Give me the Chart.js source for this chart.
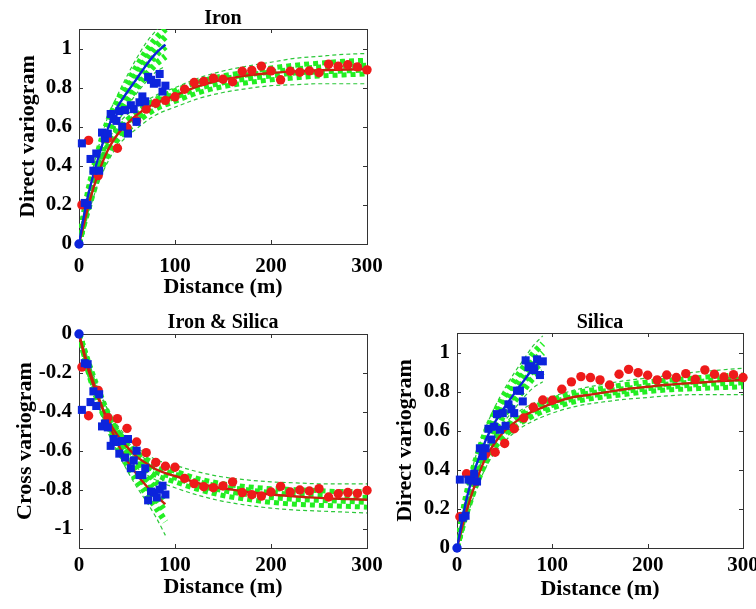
<!DOCTYPE html>
<html><head><meta charset="utf-8">
<script src="https://cdn.jsdelivr.net/npm/chart.js@4.4.1/dist/chart.umd.min.js"></script>
<style>
html,body{margin:0;padding:0;background:#fff;overflow:hidden;width:756px;height:609px;position:relative;}
canvas{position:absolute;}
</style></head><body>
<canvas id="c1" width="410" height="300" style="left:0;top:0"></canvas>
<canvas id="c2" width="410" height="309" style="left:0;top:300px"></canvas>
<canvas id="c3" width="410" height="309" style="left:380px;top:300px"></canvas>
<script>
// ---------- tick labels ----------
const xTicks = [0, 100, 200, 300];
const yTicksDirect = [0, 0.2, 0.4, 0.6, 0.8, 1];
const yTicksCross = [-1, -0.8, -0.6, -0.4, -0.2, 0];

// ---------- lags ----------
const lagLong = [3,10,20,30,40,50,60,70,80,90,100,110,120,130,140,150,160,170,180,190,200,210,220,230,240,250,260,270,280,290,300];
const lagShort = [0,3,6,9,12,15,18,21,24,27,30,33,36,39,42,45,48,51,54,57,60,63,66,69,72,75,78,81,84,87,90];
const modelShortX = [0,5,10,20,30,40,50,60,70,80,90];
const modelLongX = [0,5,10,20,30,40,50,60,70,80,90,100,120,140,160,180,200,220,240,260,280,300];
const bandShortX = [0,10,20,30,40,50,60,70,80,90];
const bandLongX = [0,10,20,30,40,60,80,100,125,150,175,200,225,250,275,300];

// ---------- Iron ----------
const ironRed = [0.20,0.53,0.35,0.54,0.49,0.595,0.63,0.69,0.72,0.735,0.753,0.792,0.826,0.832,0.848,0.843,0.83,0.884,0.888,0.91,0.886,0.84,0.884,0.879,0.886,0.876,0.92,0.91,0.917,0.906,0.891];
const ironBlue = [0,0.515,0.21,0.20,0.435,0.375,0.463,0.375,0.57,0.54,0.565,0.665,0.64,0.63,0.68,0.60,0.685,0.565,0.71,0.69,0.625,0.725,0.755,0.73,0.855,0.84,0.82,0.825,0.87,0.78,0.81];
const ironShortModel = [0,0.14,0.26,0.44,0.59,0.70,0.775,0.845,0.915,0.975,1.02];
const ironLongModel = [0,0.1,0.2,0.36,0.48,0.56,0.615,0.66,0.695,0.72,0.74,0.76,0.80,0.83,0.85,0.865,0.875,0.882,0.887,0.89,0.893,0.895];
const ironShortBand = [
  [0,0.22,0.39,0.52,0.62,0.70,0.77,0.83,0.88,0.91],
  [0,0.235,0.41,0.55,0.65,0.73,0.80,0.865,0.92,0.96],
  [0,0.25,0.43,0.575,0.68,0.76,0.835,0.905,0.965,1.01],
  [0,0.26,0.45,0.60,0.705,0.79,0.87,0.945,1.01,1.06],
  [0,0.275,0.47,0.625,0.73,0.82,0.905,0.985,1.05,1.10],
  [0,0.29,0.49,0.65,0.76,0.86,0.95,1.03,1.09,1.14]
];
const ironLongBand = [
  [0,0.16,0.31,0.42,0.50,0.59,0.66,0.70,0.745,0.775,0.795,0.81,0.815,0.82,0.82,0.82],
  [0,0.175,0.335,0.45,0.53,0.62,0.69,0.73,0.775,0.805,0.825,0.84,0.85,0.86,0.865,0.87],
  [0,0.19,0.35,0.47,0.55,0.64,0.71,0.75,0.795,0.825,0.845,0.86,0.875,0.88,0.885,0.89],
  [0,0.205,0.37,0.49,0.57,0.66,0.725,0.77,0.815,0.845,0.865,0.88,0.895,0.905,0.91,0.915],
  [0,0.22,0.385,0.505,0.585,0.675,0.74,0.785,0.83,0.86,0.88,0.90,0.915,0.925,0.935,0.94],
  [0,0.24,0.41,0.53,0.61,0.70,0.76,0.80,0.85,0.885,0.91,0.93,0.95,0.96,0.97,0.975]
];

// ---------- Iron & Silica ----------
const crossRed = [-0.17,-0.42,-0.29,-0.43,-0.435,-0.485,-0.555,-0.61,-0.66,-0.68,-0.685,-0.742,-0.769,-0.785,-0.79,-0.781,-0.76,-0.815,-0.826,-0.833,-0.812,-0.783,-0.812,-0.802,-0.807,-0.795,-0.838,-0.821,-0.815,-0.819,-0.804];
const crossBlue = [0,-0.39,-0.15,-0.155,-0.35,-0.295,-0.37,-0.31,-0.475,-0.46,-0.48,-0.575,-0.54,-0.555,-0.615,-0.55,-0.635,-0.54,-0.69,-0.65,-0.60,-0.725,-0.725,-0.69,-0.855,-0.81,-0.815,-0.84,-0.80,-0.78,-0.825];
const crossShortModel = [0,-0.09,-0.17,-0.32,-0.45,-0.56,-0.65,-0.72,-0.78,-0.83,-0.875];
const crossLongModel = [0,-0.1,-0.19,-0.33,-0.44,-0.52,-0.58,-0.63,-0.665,-0.695,-0.715,-0.73,-0.76,-0.785,-0.80,-0.815,-0.825,-0.833,-0.84,-0.845,-0.848,-0.852];
const crossShortBand = [
  [0,-0.145,-0.27,-0.39,-0.48,-0.55,-0.60,-0.65,-0.71,-0.77],
  [0,-0.155,-0.29,-0.41,-0.505,-0.58,-0.64,-0.70,-0.76,-0.82],
  [0,-0.165,-0.305,-0.43,-0.53,-0.61,-0.68,-0.74,-0.80,-0.865],
  [0,-0.17,-0.32,-0.45,-0.555,-0.64,-0.715,-0.78,-0.845,-0.915],
  [0,-0.18,-0.335,-0.47,-0.58,-0.67,-0.75,-0.82,-0.89,-0.965],
  [0,-0.19,-0.355,-0.495,-0.605,-0.70,-0.785,-0.86,-0.94,-1.035]
];
const crossLongBand = [
  [0,-0.16,-0.29,-0.39,-0.47,-0.58,-0.645,-0.675,-0.71,-0.735,-0.75,-0.76,-0.765,-0.77,-0.77,-0.77],
  [0,-0.175,-0.31,-0.415,-0.495,-0.605,-0.67,-0.705,-0.745,-0.77,-0.785,-0.795,-0.80,-0.805,-0.81,-0.81],
  [0,-0.185,-0.325,-0.43,-0.51,-0.62,-0.685,-0.72,-0.76,-0.785,-0.80,-0.815,-0.825,-0.83,-0.835,-0.84],
  [0,-0.195,-0.34,-0.45,-0.53,-0.64,-0.705,-0.74,-0.78,-0.805,-0.825,-0.84,-0.85,-0.855,-0.86,-0.865],
  [0,-0.205,-0.355,-0.465,-0.55,-0.66,-0.725,-0.76,-0.80,-0.83,-0.85,-0.865,-0.875,-0.88,-0.885,-0.89],
  [0,-0.22,-0.37,-0.485,-0.57,-0.685,-0.75,-0.79,-0.83,-0.86,-0.88,-0.895,-0.905,-0.91,-0.915,-0.92]
];

// ---------- Silica ----------
const silicaRed = [0.16,0.38,0.34,0.48,0.49,0.535,0.61,0.665,0.72,0.757,0.756,0.812,0.85,0.877,0.872,0.86,0.834,0.889,0.914,0.897,0.884,0.86,0.885,0.872,0.892,0.863,0.911,0.889,0.875,0.887,0.872];
const silicaBlue = [0,0.35,0.155,0.165,0.35,0.345,0.38,0.34,0.51,0.47,0.51,0.61,0.555,0.62,0.685,0.605,0.69,0.625,0.735,0.71,0.69,0.805,0.805,0.75,0.96,0.925,0.93,0.91,0.965,0.885,0.955];
const silicaShortModel = [0,0.13,0.25,0.42,0.55,0.645,0.72,0.79,0.855,0.92,0.96];
const silicaLongModel = [0,0.1,0.19,0.34,0.46,0.54,0.60,0.64,0.675,0.70,0.72,0.74,0.77,0.785,0.80,0.815,0.825,0.835,0.842,0.848,0.855,0.86];
const silicaShortBand = [
  [0,0.215,0.37,0.49,0.58,0.65,0.71,0.77,0.82,0.85],
  [0,0.23,0.39,0.515,0.61,0.685,0.75,0.81,0.87,0.90],
  [0,0.245,0.41,0.54,0.635,0.715,0.785,0.85,0.91,0.95],
  [0,0.255,0.43,0.565,0.665,0.745,0.82,0.89,0.955,1.0],
  [0,0.27,0.45,0.59,0.695,0.78,0.855,0.925,0.995,1.045],
  [0,0.285,0.475,0.615,0.725,0.815,0.895,0.965,1.035,1.085]
];
const silicaLongBand = [
  [0,0.155,0.295,0.41,0.49,0.59,0.65,0.69,0.725,0.745,0.76,0.77,0.78,0.785,0.785,0.785],
  [0,0.17,0.315,0.43,0.515,0.615,0.675,0.715,0.75,0.77,0.785,0.80,0.81,0.815,0.82,0.825],
  [0,0.18,0.33,0.445,0.53,0.63,0.69,0.73,0.765,0.785,0.80,0.815,0.825,0.835,0.84,0.845],
  [0,0.19,0.345,0.46,0.545,0.645,0.705,0.745,0.78,0.80,0.815,0.83,0.84,0.85,0.86,0.865],
  [0,0.2,0.355,0.475,0.56,0.66,0.72,0.76,0.795,0.815,0.835,0.85,0.86,0.87,0.88,0.885],
  [0,0.21,0.37,0.49,0.58,0.68,0.74,0.775,0.81,0.835,0.855,0.87,0.885,0.9,0.91,0.92]
];

// ---------- helpers ----------
const FAM = '"Liberation Serif","Times New Roman",serif';
const RED = '#ee1a1a', BLUE = '#0c24dc', REDLINE = '#c8200e', GREEN = '#22ee22', GREEN2 = '#2cc83a';
const pts = (xs, ys) => xs.map((x, i) => ({x: x, y: ys[i]}));

function bandSets(xs, band, coreWidth, dash) {
  return band.map((ys, i) => {
    const env = (i === 0 || i === band.length - 1);
    return {
      data: pts(xs, ys), showLine: true, pointRadius: 0, order: 5,
      borderColor: env ? GREEN2 : GREEN, borderWidth: env ? 1.2 : coreWidth,
      borderDash: env ? [4, 3] : dash, cubicInterpolationMode: 'monotone'
    };
  });
}
function lineSet(xs, ys, color) {
  return {data: pts(xs, ys), showLine: true, pointRadius: 0, order: 3,
    borderColor: color, borderWidth: 2.4, cubicInterpolationMode: 'monotone'};
}
function redSet(xs, ys) {
  return {data: pts(xs, ys), showLine: false, order: 1, clip: false,
    pointStyle: 'circle', pointRadius: 4.7, pointBackgroundColor: RED, pointBorderColor: RED, pointBorderWidth: 0};
}
function blueSet(xs, ys) {
  return {data: pts(xs, ys), showLine: false, order: 0, clip: false,
    pointStyle: xs.map((x, i) => i === 0 ? 'circle' : 'rect'),
    pointRadius: xs.map((x, i) => i === 0 ? 4.7 : 5.7),
    pointBackgroundColor: BLUE, pointBorderColor: BLUE, pointBorderWidth: 0};
}

const framePlugin = {
  id: 'frame',
  beforeDatasetsDraw(chart, args, o) {
    const ctx = chart.ctx, a = chart.chartArea, x = chart.scales.x, y = chart.scales.y;
    ctx.save();
    ctx.strokeStyle = '#333'; ctx.lineWidth = 1;
    ctx.beginPath();
    o.xt.forEach(v => { const p = Math.round(x.getPixelForValue(v)) + 0.5;
      ctx.moveTo(p, a.bottom); ctx.lineTo(p, a.bottom - 4); ctx.moveTo(p, a.top); ctx.lineTo(p, a.top + 4); });
    o.yt.forEach(v => { const p = Math.round(y.getPixelForValue(v)) + 0.5;
      ctx.moveTo(a.left, p); ctx.lineTo(a.left + 4, p); ctx.moveTo(a.right, p); ctx.lineTo(a.right - 4, p); });
    ctx.stroke();
    ctx.strokeRect(Math.round(a.left) + 0.5, Math.round(a.top) + 0.5, Math.round(a.width), Math.round(a.height));
    ctx.restore();
  }
};

function makeChart(id, cfg) {
  const tickFont = {family: FAM, size: 21, weight: 'bold', lineHeight: 1};
  const titleFont = {family: FAM, size: 22, weight: 'bold', lineHeight: 1};
  new Chart(document.getElementById(id), {
    type: 'scatter',
    data: {datasets: cfg.datasets},
    plugins: [framePlugin],
    options: {
      responsive: false, animation: false, devicePixelRatio: 1,
      layout: {padding: {left: 0, right: cfg.padRight, top: 0, bottom: 0}},
      plugins: {
        legend: {display: false}, tooltip: {enabled: false},
        title: {display: true, text: cfg.title, fullSize: false, color: '#000',
          font: {family: FAM, size: 20, weight: 'bold', lineHeight: 1},
          padding: {top: cfg.titleTop, bottom: cfg.titleBottom}},
        frame: {xt: xTicks, yt: cfg.yTicks}
      },
      scales: {
        x: {type: 'linear', min: 0, max: 300,
          afterBuildTicks: s => { s.ticks = xTicks.map(v => ({value: v})); },
          afterFit: s => { s.height = cfg.xHeight; },
          grid: {display: false, drawTicks: false}, border: {display: false},
          ticks: {font: tickFont, color: '#000', padding: cfg.xTickPad, maxRotation: 0, autoSkip: false, callback: v => String(v)},
          title: {display: true, text: 'Distance (m)', color: '#000', font: titleFont, padding: {top: 0, bottom: cfg.xTitlePad}}
        },
        y: {type: 'linear', min: cfg.yMin, max: cfg.yMax,
          afterBuildTicks: s => { s.ticks = cfg.yTicks.map(v => ({value: v})); },
          afterFit: s => { s.width = cfg.yWidth; },
          grid: {display: false, drawTicks: false}, border: {display: false},
          ticks: {font: tickFont, color: '#000', padding: 7, autoSkip: false, callback: v => String(v)},
          title: {display: true, text: cfg.yTitle, color: '#000', font: titleFont, padding: {top: cfg.yTitlePad, bottom: 0}}
        }
      }
    }
  });
}

makeChart('c1', {
  title: 'Iron', yTitle: 'Direct variogram', yMin: 0, yMax: 1.1, yTicks: yTicksDirect,
  padRight: 43, yWidth: 79, xHeight: 56, titleTop: 9, titleBottom: 0,
  xTickPad: 12, xTitlePad: 2, yTitlePad: 17,
  datasets: [
    blueSet(lagShort, ironBlue), redSet(lagLong, ironRed),
    lineSet(modelShortX, ironShortModel, BLUE), lineSet(modelLongX, ironLongModel, REDLINE),
    ...bandSets(bandShortX, ironShortBand, 6.5, [4, 4]), ...bandSets(bandLongX, ironLongBand, 5, [5, 4])
  ]
});
makeChart('c2', {
  title: 'Iron & Silica', yTitle: 'Cross variogram', yMin: -1.1, yMax: 0, yTicks: yTicksCross,
  padRight: 43, yWidth: 79, xHeight: 61, titleTop: 13, titleBottom: 1,
  xTickPad: 7, xTitlePad: 11, yTitlePad: 14,
  datasets: [
    blueSet(lagShort, crossBlue), redSet(lagLong, crossRed),
    lineSet(modelShortX, crossShortModel, REDLINE), lineSet(modelLongX, crossLongModel, REDLINE),
    ...bandSets(bandShortX, crossShortBand, 6.5, [4, 4]), ...bandSets(bandLongX, crossLongBand, 5, [5, 4])
  ]
});
makeChart('c3', {
  title: 'Silica', yTitle: 'Direct variogram', yMin: 0, yMax: 1.1, yTicks: yTicksDirect,
  padRight: 47, yWidth: 77, xHeight: 61, titleTop: 13, titleBottom: 0,
  xTickPad: 7, xTitlePad: 9, yTitlePad: 14,
  datasets: [
    blueSet(lagShort, silicaBlue), redSet(lagLong, silicaRed),
    lineSet(modelShortX, silicaShortModel, BLUE), lineSet(modelLongX, silicaLongModel, REDLINE),
    ...bandSets(bandShortX, silicaShortBand, 6.5, [4, 4]), ...bandSets(bandLongX, silicaLongBand, 5, [5, 4])
  ]
});
</script>
</body></html>
